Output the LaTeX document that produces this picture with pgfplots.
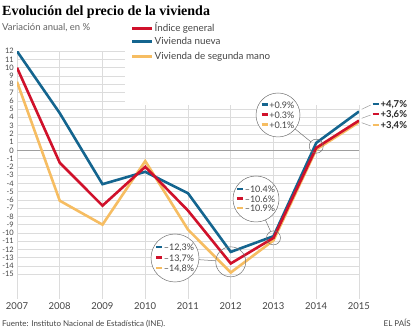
\documentclass[border=0pt]{standalone}
\usepackage{pgfplots}
\pgfplotsset{compat=1.18}
\usepackage{fontspec}
\setmainfont{Lato}
\newfontfamily\titlefont{Liberation Serif}
\definecolor{cred}{HTML}{D0112B}
\definecolor{cblue}{HTML}{14658F}
\definecolor{cyel}{HTML}{F6BD62}
\definecolor{gridc}{HTML}{DCDCDC}
\definecolor{txt}{HTML}{444444}
\begin{document}
\begin{tikzpicture}
% title and texts
\node[anchor=base west, inner sep=0pt, font=\titlefont\bfseries\fontsize{14bp}{16bp}\selectfont] at (2bp,320.5bp) {Evolución del precio de la vivienda};
\node[anchor=base west, inner sep=0pt, font=\fontsize{9.5bp}{11bp}\selectfont, text=txt!85] at (2bp,305bp) {Variación anual, en \%};
% legend
\draw[cred, line width=2.6bp] (132bp,307.7bp) -- (152bp,307.7bp);
\draw[cblue, line width=2.6bp] (132bp,294.3bp) -- (152bp,294.3bp);
\draw[cyel, line width=2.6bp] (132bp,279.3bp) -- (152bp,279.3bp);
\node[anchor=west, inner sep=0pt, font=\fontsize{9.8bp}{12bp}\selectfont, text=txt] at (154.5bp,308bp) {Índice general};
\node[anchor=west, inner sep=0pt, font=\fontsize{9.8bp}{12bp}\selectfont, text=txt] at (154.5bp,294.6bp) {Vivienda nueva};
\node[anchor=west, inner sep=0pt, font=\fontsize{9.8bp}{12bp}\selectfont, text=txt] at (154.5bp,279.6bp) {Vivienda de segunda mano};
% footer
\node[anchor=base west, inner sep=0pt, font=\fontsize{8bp}{9bp}\selectfont, text=txt] at (2bp,10bp) {Fuente: Instituto Nacional de Estadística (INE).};
\node[anchor=base east, inner sep=0pt, font=\fontsize{8bp}{9bp}\selectfont, text=txt] at (411bp,10bp) {EL PAÍS};
\begin{axis}[
  at={(17bp,37bp)}, anchor=south west,
  scale only axis, width=342bp, height=247.8bp,
  xmin=2007, xmax=2015, ymin=-18, ymax=12,
  set layers,
  axis line style={draw=none},
  major tick length=0pt,
  xtick={2007,...,2015},
  xticklabels={2007,2008,2009,2010,2011,2012,2013,2014,2015},
  ytick={-15,...,12},
  yticklabel={\pgfmathparse{int(round(\tick))}\pgfmathresult},
  xticklabel style={font=\fontsize{9.5bp}{11bp}\selectfont, text=txt},
  yticklabel style={font=\fontsize{7.5bp}{8bp}\selectfont, text=txt, inner sep=1bp, xshift=-2bp},
  grid=major,
  major grid style={gridc, line width=0.5bp},
  extra y ticks={0},
  extra y tick labels={},
  extra y tick style={major grid style={gray!75, line width=0.6bp}},
]
\begin{pgfonlayer}{pre main}
\fill[white] (axis cs:2009.53,5.5) rectangle (axis cs:2015.3,12.3);
\end{pgfonlayer}
\addplot[cyel, line width=2.6bp, line join=miter] coordinates {
(2007,8.3) (2008,-6.1) (2009,-9.0) (2010,-1.3) (2011,-9.6) (2012,-14.8) (2013,-10.9) (2014,0.1) (2015,3.4)};
\addplot[cblue, line width=2.6bp, line join=miter] coordinates {
(2007,12.0) (2008,4.5) (2009,-4.1) (2010,-2.6) (2011,-5.2) (2012,-12.3) (2013,-10.4) (2014,0.9) (2015,4.7)};
\addplot[cred, line width=2.6bp, line join=miter] coordinates {
(2007,10.0) (2008,-1.5) (2009,-6.7) (2010,-2.0) (2011,-7.3) (2012,-13.7) (2013,-10.6) (2014,0.3) (2015,3.6)};
\coordinate (S14) at (axis cs:2014,0.5);
\coordinate (S13) at (axis cs:2013,-10.6);
\coordinate (S12) at (axis cs:2012,-13.5);
\end{axis}
% callouts
\coordinate (C14) at (278bp,221bp);
\coordinate (C13) at (256bp,137bp);
\coordinate (C12) at (175bp,78bp);
\draw[gray!90!black, line width=0.5bp] (S14) circle[radius=7bp];
\draw[gray!90!black, line width=0.5bp] (S13) circle[radius=7bp];
\draw[gray!90!black, line width=0.5bp] (S12) circle[radius=15bp];
\draw[gray!90!black, line width=0.5bp, shorten <=22bp, shorten >=7bp] (C14) -- (S14);
\draw[gray!90!black, line width=0.5bp, shorten <=23bp, shorten >=7bp] (C13) -- (S13);
\draw[gray!90!black, line width=0.5bp, shorten <=24bp, shorten >=15bp] (C12) -- (S12);
\draw[gray!90!black, line width=0.5bp, fill=white] (C14) circle[radius=22bp];
\draw[gray!90!black, line width=0.5bp, fill=white] (C13) circle[radius=23bp];
\draw[gray!90!black, line width=0.5bp, fill=white] (C12) circle[radius=24bp];
\tikzset{ctext/.style={inner sep=0pt, font=\fontsize{9bp}{11bp}\selectfont, text=txt}}
\newcommand{\dash}[1]{\textcolor{#1}{\rule[2.3bp]{6bp}{2.6bp}}\hspace{1.8bp}}
\node[ctext] at (278bp,231bp) {\dash{cblue}+0.9\%};
\node[ctext] at (278bp,221bp) {\dash{cred}+0.3\%};
\node[ctext] at (278bp,211bp) {\dash{cyel}+0.1\%};
\node[ctext] at (256bp,146.5bp) {\dash{cblue}\textendash10.4\%};
\node[ctext] at (256bp,137bp) {\dash{cred}\textendash10.6\%};
\node[ctext] at (256bp,127.5bp) {\dash{cyel}\textendash10.9\%};
\node[ctext] at (175bp,88bp) {\dash{cblue}\textendash12,3\%};
\node[ctext] at (175bp,77.5bp) {\dash{cred}\textendash13,7\%};
\node[ctext] at (175bp,67bp) {\dash{cyel}\textendash14,8\%};
% end labels
\draw[gray!80, line width=0.5bp] (361.7bp,226.7bp) -- (370.7bp,231bp);
\draw[gray!80, line width=0.5bp] (361.7bp,217.7bp) -- (370.7bp,221bp);
\draw[gray!80, line width=0.5bp] (361.7bp,213.3bp) -- (370.7bp,210bp);
\node[ctext, anchor=west, font=\fontsize{9.5bp}{11bp}\selectfont\bfseries, text=black!85] at (372.5bp,231bp) {\dash{cblue}+4,7\%};
\node[ctext, anchor=west, font=\fontsize{9.5bp}{11bp}\selectfont\bfseries, text=black!85] at (372.5bp,221bp) {\dash{cred}+3,6\%};
\node[ctext, anchor=west, font=\fontsize{9.5bp}{11bp}\selectfont\bfseries, text=black!85] at (372.5bp,210bp) {\dash{cyel}+3,4\%};
\pgfresetboundingbox
\path[use as bounding box] (0,0) rectangle (414bp,336bp);
\end{tikzpicture}
\end{document}
